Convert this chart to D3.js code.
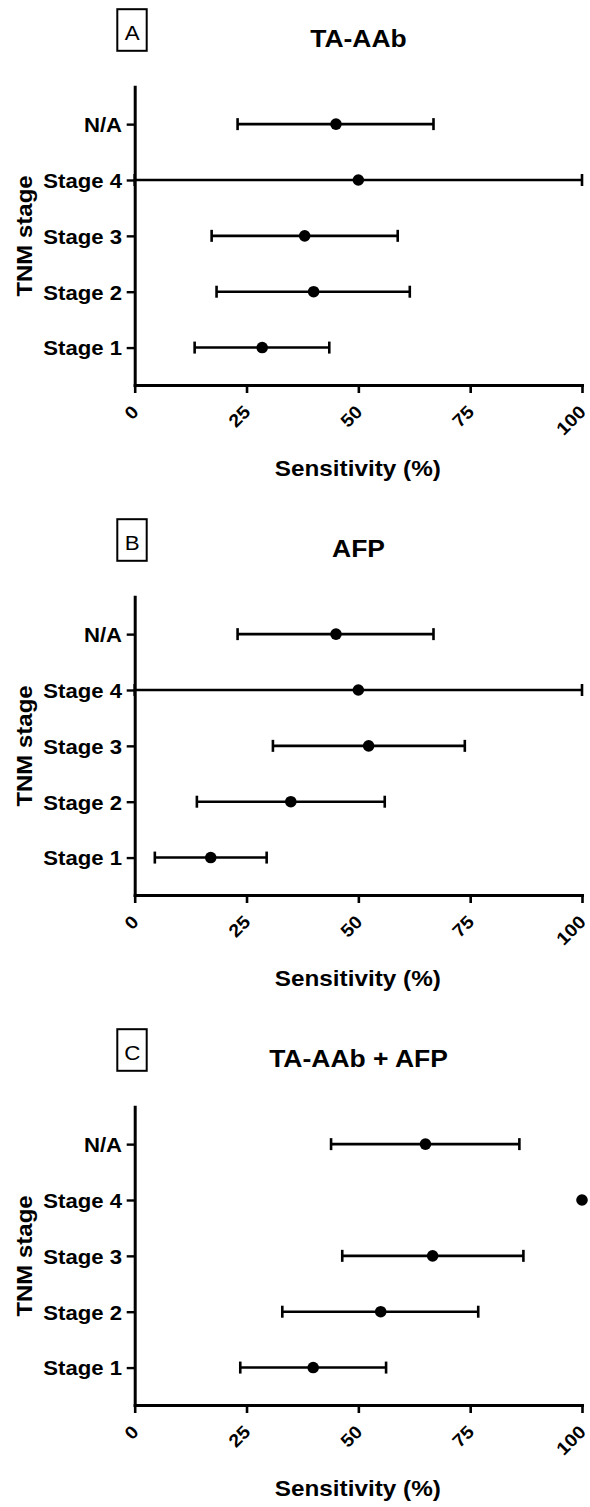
<!DOCTYPE html>
<html>
<head>
<meta charset="utf-8">
<script src="https://cdn.jsdelivr.net/npm/d3@7"></script>
<style>
  html, body { margin: 0; padding: 0; background: #fff; }
  svg { display: block; }
</style>
</head>
<body>
<script>
// ---------- data ----------
const categories = ["Stage 1", "Stage 2", "Stage 3", "Stage 4", "N/A"];
const panelLetters = ["A", "B", "C"];
const panelTitles = ["TA-AAb", "AFP", "TA-AAb + AFP"];
const xTickValues = [0, 25, 50, 75, 100];
const xAxisTitle = "Sensitivity (%)";
const yAxisTitle = "TNM stage";

const taaabMean = [28.5, 40.0, 38.0, 50.0, 45.0];
const taaabLow  = [13.4, 18.3, 17.2, 0.0, 23.0];
const taaabHigh = [43.5, 61.5, 58.8, 100.0, 66.8];

const afpMean = [17.0, 34.9, 52.3, 50.0, 45.0];
const afpLow  = [4.5, 13.9, 30.9, 0.0, 23.0];
const afpHigh = [29.5, 55.9, 73.8, 100.0, 66.8];

const comboMean = [39.9, 55.0, 66.6, 100.0, 65.0];
const comboLow  = [23.6, 33.0, 46.4, 100.0, 43.9];
const comboHigh = [56.2, 76.8, 86.9, 100.0, 86.0];

const seriesMeans = [taaabMean, afpMean, comboMean];
const seriesLows = [taaabLow, afpLow, comboLow];
const seriesHighs = [taaabHigh, afpHigh, comboHigh];

// ---------- layout ----------
const W = 590, H = 1507;
const FONT = "'Liberation Sans', Arial, Helvetica, sans-serif";
const SX = 1.09;           // glyphs in the reference are a bit wider than Arial
const PANEL_STEP = 510;
const LEFT = 134.7, RIGHT = 582, TOP = 86.7, BOTTOM = 385;

const svg = d3.select("body").append("svg")
  .attr("width", W).attr("height", H)
  .attr("viewBox", `0 0 ${W} ${H}`);

svg.append("rect").attr("width", W).attr("height", H).attr("fill", "#fff");

const x = d3.scaleLinear().domain([0, 100]).range([LEFT, RIGHT]);
const y = d3.scalePoint().domain(categories).range([BOTTOM, TOP]).padding(0.67);

panelTitles.forEach((title, i) => {
  const g = svg.append("g").attr("transform", `translate(0,${i * PANEL_STEP})`);
  const rows = categories.map((c, k) => ({
    cat: c, mean: seriesMeans[i][k], lo: seriesLows[i][k], hi: seriesHighs[i][k]
  }));

  // panel letter box
  g.append("rect")
    .attr("x", 117.3).attr("y", 9.2).attr("width", 29.4).attr("height", 41.6)
    .attr("fill", "none").attr("stroke", "#000").attr("stroke-width", 2);
  g.append("text")
    .attr("transform", `translate(132.2,39.5) scale(${SX},1)`)
    .attr("text-anchor", "middle")
    .attr("font-family", FONT).attr("font-size", 20.5)
    .attr("fill", "#000")
    .text(panelLetters[i]);

  // title
  g.append("text")
    .attr("transform", `translate(358.5,46.7) scale(${SX},1)`)
    .attr("text-anchor", "middle")
    .attr("font-family", FONT).attr("font-weight", "bold").attr("font-size", 24.3)
    .attr("fill", "#000")
    .text(title);

  // x axis
  const xa = g.append("g")
    .attr("transform", `translate(0,${BOTTOM})`)
    .call(d3.axisBottom(x).tickValues(xTickValues).tickSize(8).tickSizeOuter(0));
  xa.select(".domain").attr("stroke", "#000").attr("stroke-width", 3)
    .attr("stroke-linecap", "square");
  xa.selectAll(".tick line").attr("stroke", "#000").attr("stroke-width", 2.6);
  xa.selectAll(".tick text")
    .attr("x", 0).attr("y", 0).attr("dy", null)
    .attr("text-anchor", "end")
    .attr("transform", `translate(4.5,28) rotate(-45) scale(${SX},1)`)
    .attr("font-family", FONT).attr("font-weight", "bold").attr("font-size", 18)
    .attr("fill", "#000");

  // y axis
  const ya = g.append("g")
    .attr("transform", `translate(${LEFT},0)`)
    .call(d3.axisLeft(y).tickSize(8).tickSizeOuter(0));
  ya.select(".domain").attr("stroke", "#000").attr("stroke-width", 3)
    .attr("stroke-linecap", "square");
  ya.selectAll(".tick line").attr("stroke", "#000").attr("stroke-width", 2.4);
  ya.selectAll(".tick text")
    .attr("x", 0).attr("dy", "0.36em")
    .attr("text-anchor", "end")
    .attr("transform", `translate(-12.7,0) scale(${SX},1)`)
    .attr("font-family", FONT).attr("font-weight", "bold").attr("font-size", 20.3)
    .attr("fill", "#000");

  // axis titles
  g.append("text")
    .attr("transform", `translate(357.8,476) scale(${SX},1)`)
    .attr("text-anchor", "middle")
    .attr("font-family", FONT).attr("font-weight", "bold").attr("font-size", 22.3)
    .attr("fill", "#000")
    .text(xAxisTitle);
  g.append("text")
    .attr("transform", `translate(31.5,236) rotate(-90) scale(${SX},1)`)
    .attr("text-anchor", "middle")
    .attr("font-family", FONT).attr("font-weight", "bold").attr("font-size", 22)
    .attr("fill", "#000")
    .text(yAxisTitle);

  // error bars
  const bars = rows.filter(r => r.hi > r.lo);
  const eb = g.append("g").attr("stroke", "#000").attr("stroke-width", 2.6);
  eb.selectAll("line.whisker").data(bars).join("line").attr("class", "whisker")
    .attr("x1", d => x(d.lo)).attr("x2", d => x(d.hi))
    .attr("y1", d => y(d.cat)).attr("y2", d => y(d.cat));
  eb.selectAll("line.caplo").data(bars).join("line").attr("class", "caplo")
    .attr("x1", d => x(d.lo)).attr("x2", d => x(d.lo))
    .attr("y1", d => y(d.cat) - 6).attr("y2", d => y(d.cat) + 6);
  eb.selectAll("line.caphi").data(bars).join("line").attr("class", "caphi")
    .attr("x1", d => x(d.hi)).attr("x2", d => x(d.hi))
    .attr("y1", d => y(d.cat) - 6).attr("y2", d => y(d.cat) + 6);

  // points
  g.append("g").selectAll("circle").data(rows).join("circle")
    .attr("cx", d => x(d.mean)).attr("cy", d => y(d.cat))
    .attr("r", 5.8).attr("fill", "#000");
});
</script>
</body>
</html>
